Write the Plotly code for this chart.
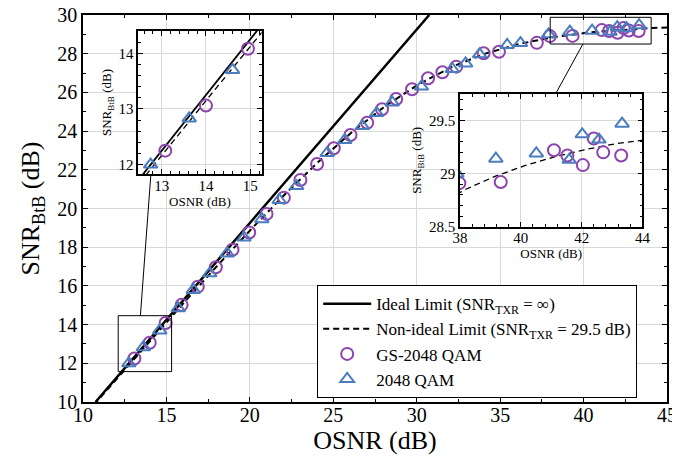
import plotly.graph_objects as go

# ---------------- data ----------------
OSNR_GS = [13.08, 14.0, 14.95, 15.91, 16.88, 17.96, 18.96, 19.96, 21.0, 22.04, 23.03, 24.03,
           25.03, 26.03, 27.03, 27.92, 28.77, 29.72, 30.68, 31.54, 32.37, 34.01, 34.93, 37.2,
           37.98, 39.34, 41.09, 41.53, 42.04, 42.40, 42.71, 43.30]
SNR_GS = [12.25, 13.06, 14.08, 15.02, 15.96, 16.96, 17.87, 18.76, 19.72, 20.56, 21.47, 22.30,
          23.11, 23.80, 24.43, 25.13, 25.66, 26.16, 26.73, 27.04, 27.33, 28.02, 28.10, 28.56,
          28.91, 28.92, 29.22, 29.17, 29.08, 29.33, 29.20, 29.17]

OSNR_UNI = [12.75, 13.62, 14.6, 15.71, 16.61, 17.60, 18.64, 19.65, 20.72, 21.76, 22.80, 24.64,
            25.69, 26.75, 27.60, 28.53, 30.28, 32.13, 32.93, 33.77, 35.42, 36.22, 37.9,
            39.18, 40.51, 41.59, 42.02, 42.57, 43.33]
SNR_UNI = [12.0, 12.83, 13.70, 14.84, 15.79, 16.65, 17.68, 18.50, 19.45, 20.44, 21.16, 22.87,
           23.54, 24.26, 24.93, 25.48, 26.30, 27.21, 27.50, 27.97, 28.45, 28.55, 29.0,
           29.14, 29.19, 29.13, 29.37, 29.32, 29.47]

OSNR_IDEAL = [10.75, 30.75]
SNR_IDEAL = [10.0, 30.0]

OSNR_NONIDEAL = [10.65, 12.15, 14.15, 16.15, 18.15, 20.15, 22.15, 24.15, 26.15, 28.15, 30.15,
                 32.15, 34.15, 36.15, 38.15, 39.15, 40.15, 41.15, 42.15, 43.15, 44.15, 45.65]
SNR_NONIDEAL = [9.853, 11.333, 13.295, 15.234, 17.140, 18.995, 20.775, 22.447, 23.973, 25.314,
                26.439, 27.337, 28.016, 28.507, 28.847, 28.974, 29.077, 29.161, 29.228, 29.283,
                29.327, 29.376]

NAMES = ["Ideal Limit (SNR<sub>TXR</sub> = ∞)",
         "Non-ideal Limit (SNR<sub>TXR</sub> = 29.5 dB)",
         "GS-2048 QAM",
         "2048 QAM"]

PURPLE = "#8e44ad"
BLUE = "#4a7dbe"
FONT = "Liberation Serif"

fig = go.Figure()

def add_set(xa, ya, show, lw):
    fig.add_trace(go.Scatter(x=OSNR_IDEAL, y=SNR_IDEAL, mode="lines", name=NAMES[0],
                             line=dict(color="black", width=lw + 0.5), showlegend=show,
                             xaxis=xa, yaxis=ya))
    fig.add_trace(go.Scatter(x=OSNR_NONIDEAL, y=SNR_NONIDEAL, mode="lines", name=NAMES[1],
                             line=dict(color="black", width=lw, dash="6px,4px"), showlegend=show,
                             xaxis=xa, yaxis=ya))
    fig.add_trace(go.Scatter(x=OSNR_GS, y=SNR_GS, mode="markers", name=NAMES[2],
                             marker=dict(symbol="circle-open", size=12, color=PURPLE,
                                         line=dict(width=2, color=PURPLE)),
                             showlegend=show, xaxis=xa, yaxis=ya))
    fig.add_trace(go.Scatter(x=OSNR_UNI, y=SNR_UNI, mode="markers", name=NAMES[3],
                             marker=dict(symbol="triangle-up-open", size=12, color=BLUE,
                                         line=dict(width=2, color=BLUE)),
                             showlegend=show, xaxis=xa, yaxis=ya))

add_set("x", "y", True, 2)
add_set("x2", "y2", False, 1.3)
add_set("x3", "y3", False, 1.3)

GRID = "#d9d9d9"

def axis(rng, dtick, minor, domain, anchor, title, tsize, fsize, standoff, lblstand=0):
    return dict(range=rng, dtick=dtick, domain=domain, anchor=anchor, automargin=False,
                ticks="inside", ticklen=5, tickwidth=1, tickcolor="black",
                showline=True, linecolor="black", linewidth=1.5, mirror="allticks",
                showgrid=True, gridcolor=GRID, gridwidth=1.2, zeroline=False,
                ticklabelstandoff=lblstand, ticklabeloverflow="allow",
                minor=dict(dtick=minor, ticks="inside", ticklen=3, tickcolor="black", showgrid=False),
                tickfont=dict(family=FONT, size=fsize, color="black"),
                title=dict(text=title, font=dict(family=FONT, size=tsize, color="black"),
                           standoff=standoff))

fig.update_layout(
    width=680, height=470,
    margin=dict(l=75, r=21, t=7, b=76),
    paper_bgcolor="white", plot_bgcolor="white",
    font=dict(family=FONT, color="black"),
    xaxis=axis([10, 45], 5, 2.5, [0, 1], "y", "OSNR (dB)", 26, 20, 4, -6),
    yaxis=axis([10, 30], 2, 1, [0, 1], "x", "SNR<sub>BtB</sub> (dB)", 26, 20, 10),
    xaxis2=axis([12.47, 15.26], 1, 0.2, [0.0947, 0.306], "y2", "OSNR (dB)", 13, 15, 2, -3),
    yaxis2=axis([11.83, 14.40], 1, 0.2, [0.589, 0.9587], "x2", "SNR<sub>BtB</sub> (dB)", 13, 15, 4),
    xaxis3=axis([38, 44], 2, 0.4, [0.6455, 0.958], "y3", "OSNR (dB)", 13, 15, 2, -3),
    yaxis3=axis([28.5, 29.75], 0.5, 0.1, [0.453, 0.796], "x3", "SNR<sub>BtB</sub> (dB)", 13, 15, 4),
    legend=dict(x=0.401, y=0.302, xanchor="left", yanchor="top",
                bgcolor="white", bordercolor="black", borderwidth=1,
                font=dict(family=FONT, size=17, color="black"),
                tracegroupgap=0, itemwidth=48),
    showlegend=True,
)

shape_line = dict(color="black", width=1)
fig.add_shape(type="rect", xref="x", yref="y", x0=12.11, y0=11.57, x1=15.31, y1=14.46, line=shape_line)
fig.add_shape(type="line", xref="x", yref="y", x0=13.44, y0=14.46, x1=14.07, y1=21.79, line=shape_line)
fig.add_shape(type="rect", xref="x", yref="y", x0=38.0, y0=28.5, x1=44.05, y1=29.88, line=shape_line)
fig.add_shape(type="line", xref="x", yref="y", x0=39.96, y0=28.5, x1=38.32, y1=25.92, line=shape_line)

fig.write_html("out.html")
